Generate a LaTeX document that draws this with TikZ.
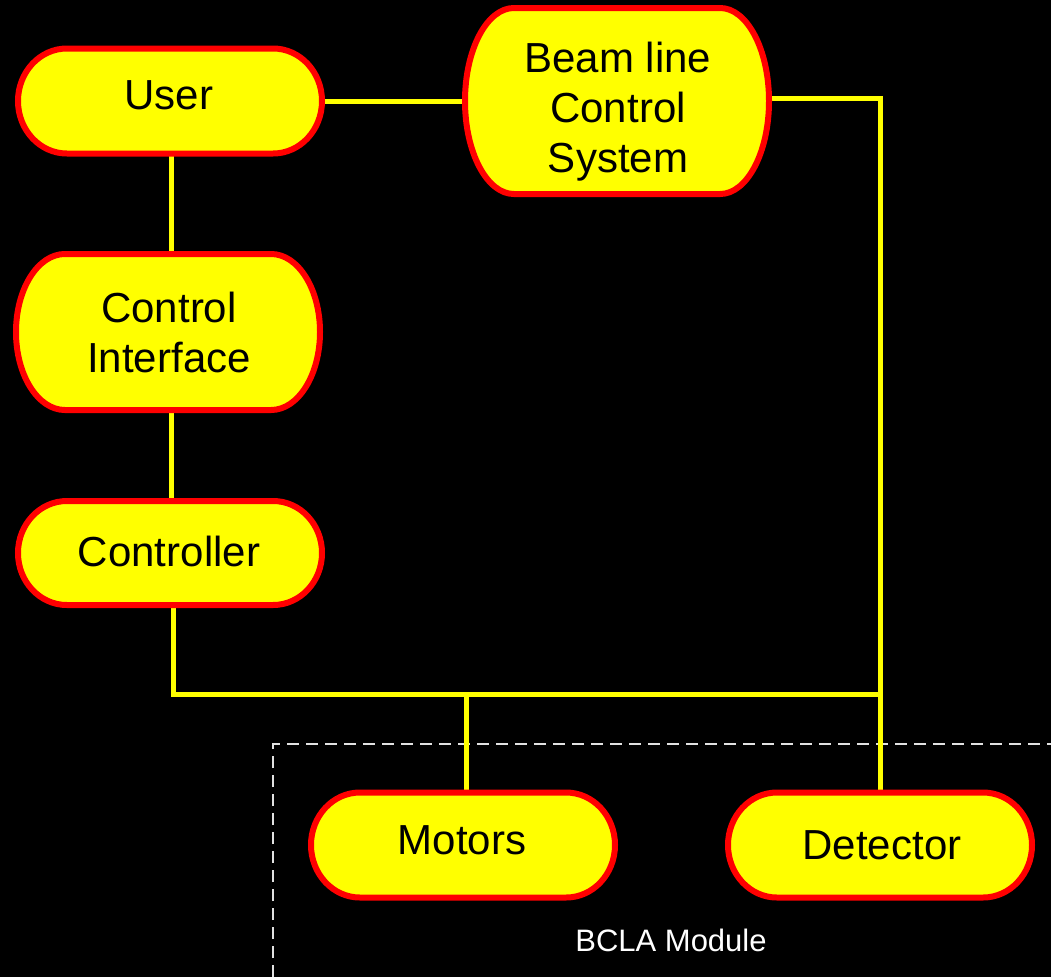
\documentclass[tikz,border=0pt]{standalone}
\usepackage{fontspec}
\setmainfont{Liberation Sans}
\definecolor{ppyellow}{RGB}{255,255,0}
\definecolor{ppred}{RGB}{255,0,0}
\definecolor{ppdash}{RGB}{225,225,225}
\pgfdeclarelayer{bg}
\pgfdeclarelayer{conn}
\pgfsetlayers{bg,conn,main}
\tikzset{
  box/.style={rectangle, draw=none, inner sep=0pt, outer sep=0pt},
  termfill/.style={fill=ppyellow, draw=ppred, line width=6pt},
  lbl/.style={inner sep=0pt, align=center, text=black, font=\fontsize{42}{50}\selectfont},
  connector/.style={draw=ppyellow, line width=5pt},
  dashbox/.style={draw=ppdash, line width=2pt, dash pattern=on 12pt off 7pt},
  note/.style={inner sep=0pt, text=white, font=\fontsize{31}{36}\selectfont},
}
\newcommand\termnode[5]{%
  \node[box, minimum width=#4pt, minimum height=#5pt] (#1) at (#2,#3) {};
  \pgfmathsetmacro\termrx{0.1609*#4}%
  \pgfmathsetmacro\termry{#5/2}%
  \path[termfill] ([xshift=\termrx pt]#1.north west) -- ([xshift=-\termrx pt]#1.north east)
    arc[start angle=90, end angle=-90, x radius=\termrx pt, y radius=\termry pt]
    -- ([xshift=\termrx pt]#1.south west)
    arc[start angle=-90, end angle=-270, x radius=\termrx pt, y radius=\termry pt] -- cycle;
}
\begin{document}
\begin{tikzpicture}[x=1pt, y=-1pt]
\begin{pgfonlayer}{bg}
  \fill[black] (0,0) rectangle (1051,977);
  \useasboundingbox (0,0) rectangle (1051,977);
  \coordinate (dbl) at (273,977);
  \coordinate (dtl) at (273,744);
  \coordinate (dtr) at (1051,744);
  \draw[dashbox] (dbl) -- (dtl) -- (dtr);
\end{pgfonlayer}

\termnode{user}{170}{101}{304}{105}
\termnode{beam}{617}{101}{304}{186}
\termnode{ci}{168}{332}{304}{156}
\termnode{ctrl}{170}{553}{304}{104}
\termnode{motors}{463}{845}{304}{105}
\termnode{det}{880}{845}{304}{105}

\node[lbl] (usertext) at (169,95) {User};
\node[lbl] (beamtext) at (618,112) {Beam line\\Control\\System};
\node[lbl] (citext) at (169,332) {Control\\Interface};
\node[lbl] (ctrltext) at (169,551) {Controller};
\node[lbl] (motorstext) at (462,840) {Motors};
\node[lbl] (dettext) at (882,845) {Detector};
\node[note] (bcla) at (671,940) {BCLA Module};

\begin{pgfonlayer}{conn}
  \coordinate (busR) at (880,694);
  \draw[connector] (user.east) -- (beam.west);
  \draw[connector] ([yshift=3pt]beam.east) -| (det.north);
  \draw[connector] ([xshift=1pt]user.south) -- ([xshift=3pt]ci.north);
  \draw[connector] ([xshift=3pt]ci.south) -- ([xshift=1pt]ctrl.north);
  \draw[connector] ([xshift=3pt]ctrl.south) |- (busR);
  \draw[connector] ([xshift=3pt]motors.north) -- ([xshift=3pt]motors.north |- busR);
\end{pgfonlayer}
\end{tikzpicture}
\end{document}
